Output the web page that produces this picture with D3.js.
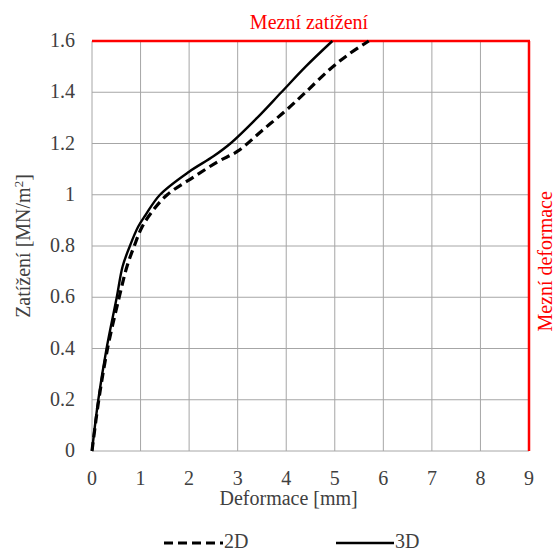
<!DOCTYPE html>
<html lang="en">
<head>
<meta charset="UTF-8">
<script src="https://cdn.jsdelivr.net/npm/d3@7"></script>
<style>
    body { margin: 0; background: white; }
    svg text { font-family: "Liberation Serif", "Times New Roman", Times, "DejaVu Serif", "Noto Serif", serif; }
</style>
</head>
<body>
<script>
    /*---------------- data ----------------*/
    // deformation [mm] / load [MN/m2]
    const def2D  = [0, 0.14, 0.32, 0.56, 0.72, 0.87, 1.02, 1.22, 1.55, 2.1, 2.6, 3.0, 3.5, 4.0, 4.4, 4.9, 5.3, 5.7];
    const load2D = [0, 0.2, 0.4, 0.6, 0.72, 0.8, 0.87, 0.93, 1.0, 1.07, 1.13, 1.17, 1.25, 1.33, 1.4, 1.49, 1.55, 1.6];
    const def3D  = [0, 0.13, 0.3, 0.51, 0.63, 0.78, 0.95, 1.1, 1.4, 2.0, 2.5, 2.85, 3.4, 3.9, 4.4, 4.95];
    const load3D = [0, 0.2, 0.4, 0.6, 0.72, 0.8, 0.875, 0.92, 1.0, 1.09, 1.15, 1.2, 1.3, 1.4, 1.5, 1.6];
    const xTicks = [0, 1, 2, 3, 4, 5, 6, 7, 8, 9];
    const yTicks = [0, 0.2, 0.4, 0.6, 0.8, 1, 1.2, 1.4, 1.6];
    const limitLoad = 1.6;
    const limitDef = 9;

    const width = 557, height = 552;
    const margin = {left: 92, right: 28, top: 41, bottom: 101};

    const svg = d3.select("body").append("svg")
        .attr("width", width)
        .attr("height", height);

    const x = d3.scaleLinear().domain([0, 9]).range([margin.left, width - margin.right]);
    const y = d3.scaleLinear().domain([0, 1.6]).range([height - margin.bottom, margin.top]);

    // grid
    svg.append("g").selectAll("line")
        .data(xTicks)
        .enter().append("line")
        .attr("x1", d => x(d)).attr("x2", d => x(d))
        .attr("y1", y(0)).attr("y2", y(1.6))
        .attr("stroke", "#a6a6a6").attr("stroke-width", 1);
    svg.append("g").selectAll("line")
        .data(yTicks)
        .enter().append("line")
        .attr("x1", x(0)).attr("x2", x(9))
        .attr("y1", d => y(d)).attr("y2", d => y(d))
        .attr("stroke", "#a6a6a6").attr("stroke-width", 1);

    // tick labels
    svg.append("g").selectAll("text")
        .data(xTicks)
        .enter().append("text")
        .attr("x", d => x(d))
        .attr("y", y(0) + 34)
        .attr("text-anchor", "middle")
        .attr("font-size", 20)
        .attr("fill", "#404040")
        .text(d => d);
    svg.append("g").selectAll("text")
        .data(yTicks)
        .enter().append("text")
        .attr("x", x(0) - 17)
        .attr("y", d => y(d) + 6)
        .attr("text-anchor", "end")
        .attr("font-size", 20)
        .attr("fill", "#404040")
        .text(d => d);

    // axis titles
    svg.append("text")
        .attr("x", x(4.05))
        .attr("y", y(0) + 54)
        .attr("text-anchor", "middle")
        .attr("font-size", 20)
        .attr("fill", "#404040")
        .text("Deformace [mm]");
    const yt = svg.append("text")
        .attr("transform", `translate(30,${y(0.8)}) rotate(-90)`)
        .attr("text-anchor", "middle")
        .attr("font-size", 20)
        .attr("fill", "#404040");
    yt.append("tspan").text("Zatížení [MN/m");
    yt.append("tspan").attr("font-size", 13).attr("dy", -7).text("2");
    yt.append("tspan").attr("dy", 7).text("]");

    // limits
    svg.append("line")
        .attr("x1", x(0)).attr("x2", x(limitDef) + 1)
        .attr("y1", y(limitLoad)).attr("y2", y(limitLoad))
        .attr("stroke", "red").attr("stroke-width", 2.5);
    svg.append("line")
        .attr("x1", x(limitDef)).attr("x2", x(limitDef))
        .attr("y1", y(limitLoad)).attr("y2", y(0))
        .attr("stroke", "red").attr("stroke-width", 2.5);
    svg.append("text")
        .attr("x", 309).attr("y", 29)
        .attr("text-anchor", "middle")
        .attr("font-size", 20)
        .attr("fill", "red")
        .text("Mezní zatížení");
    svg.append("text")
        .attr("transform", `translate(552,${y(0.74)}) rotate(-90)`)
        .attr("text-anchor", "middle")
        .attr("font-size", 20)
        .attr("fill", "red")
        .text("Mezní deformace");

    // curves
    const line = d3.line()
        .x(d => x(d[0]))
        .y(d => y(d[1]))
        .curve(d3.curveCatmullRom);

    svg.append("path")
        .datum(d3.zip(def2D, load2D))
        .attr("d", line)
        .attr("fill", "none")
        .attr("stroke", "black")
        .attr("stroke-width", 3.2)
        .attr("stroke-dasharray", "9,5");
    svg.append("path")
        .datum(d3.zip(def3D, load3D))
        .attr("d", line)
        .attr("fill", "none")
        .attr("stroke", "black")
        .attr("stroke-width", 2.4);

    // legend
    const legend = svg.append("g");
    legend.append("line")
        .attr("x1", 164).attr("x2", 223).attr("y1", 543).attr("y2", 543)
        .attr("stroke", "black").attr("stroke-width", 3.2).attr("stroke-dasharray", "9,5");
    legend.append("text")
        .attr("x", 224).attr("y", 548)
        .attr("font-size", 20).attr("fill", "#404040")
        .text("2D");
    legend.append("line")
        .attr("x1", 336).attr("x2", 394).attr("y1", 543).attr("y2", 543)
        .attr("stroke", "black").attr("stroke-width", 2.4);
    legend.append("text")
        .attr("x", 395).attr("y", 548)
        .attr("font-size", 20).attr("fill", "#404040")
        .text("3D");
</script>
</body>
</html>
